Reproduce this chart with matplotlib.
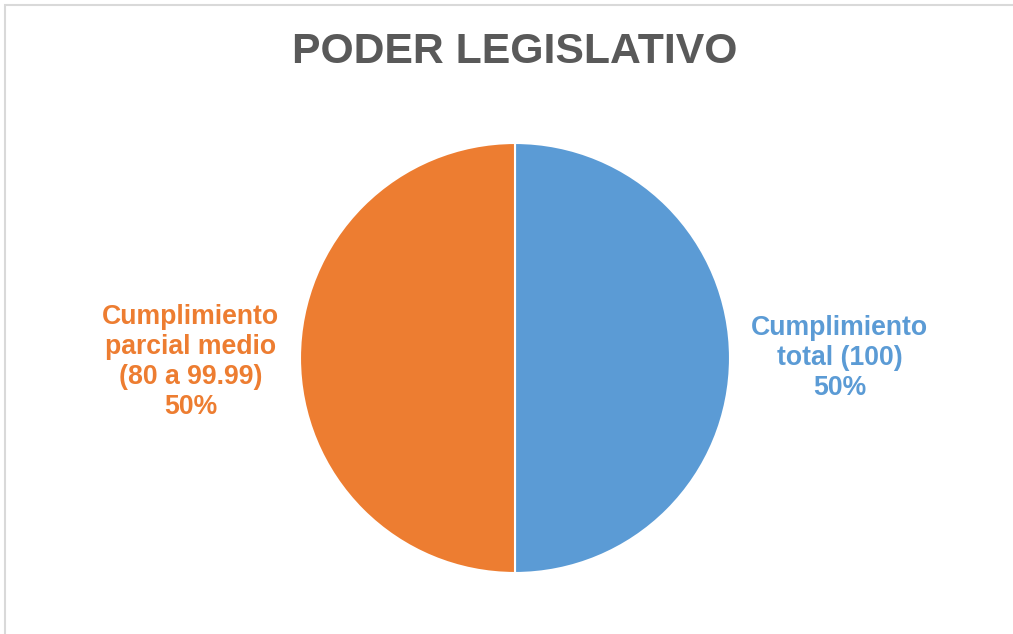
import matplotlib.pyplot as plt
from matplotlib.patches import Rectangle

# datos
categorias = ['Cumplimiento\ntotal (100)', 'Cumplimiento\nparcial medio\n(80 a 99.99)']
valores = [50, 50]
colores = ['#5B9BD5', '#ED7D31']
titulo = 'PODER LEGISLATIVO'

plt.rcParams['font.family'] = ['Liberation Sans', 'DejaVu Sans']

W, H = 1013, 634
fig = plt.figure(figsize=(W / 100, H / 100), dpi=100)
fig.patch.set_facecolor('white')

# marco gris del grafico
fig.patches.append(Rectangle((5 / W, -0.01), 1.02, 1 - 5 / H + 0.01, transform=fig.transFigure,
                             fill=False, edgecolor='#D9D9D9', linewidth=1.5))

cx, cy, r = 515, 358, 215
ax = fig.add_axes([(cx - r) / W, (H - cy - r) / H, 2 * r / W, 2 * r / H])
ax.pie(valores, colors=colores, startangle=90, counterclock=False, radius=1,
       wedgeprops=dict(edgecolor='white', linewidth=1.5))
ax.set_xlim(-1, 1)
ax.set_ylim(-1, 1)
ax.set_aspect('equal')
ax.axis('off')

total = sum(valores)
posiciones = [(1.51, 0.0), (-1.51, -0.02)]
for cat, v, c, (x, y) in zip(categorias, valores, colores, posiciones):
    ax.text(x, y, f'{cat}\n{v / total * 100:.0f}%', color=c, fontsize=19.2, fontweight='bold',
            ha='center', va='center', multialignment='center', linespacing=1.2, clip_on=False)

fig.text(515 / W, 1 - 52 / H, titulo, fontsize=30.8, fontweight='bold', color='#595959',
         ha='center', va='center')

fig.savefig('out.png', dpi=100)
